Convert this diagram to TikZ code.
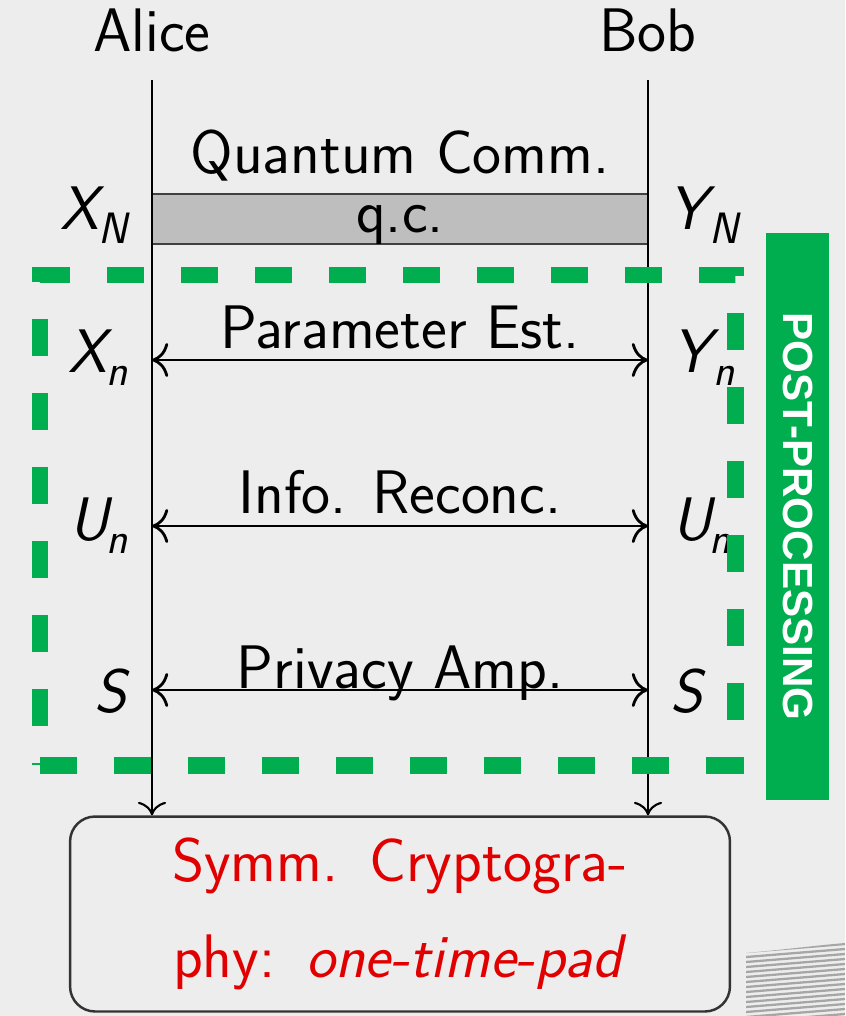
\documentclass[tikz,border=0pt]{standalone}
\usepackage{fontspec}
\newfontfamily\barfont{Liberation Sans}
\usetikzlibrary{arrows.meta}
\tikzset{>={To[scale=1.8]}}
\definecolor{bgcol}{HTML}{EDEDED}
\definecolor{ppgreen}{RGB}{0,173,79}
\definecolor{qcgray}{HTML}{BEBEBE}
\colorlet{cryptred}{red!88!black}
\newcommand{\vsub}[1]{\kern-0.1em\raisebox{-0.22em}{\fontsize{25}{25}\selectfont\itshape #1}}
\tikzset{big/.style={font=\fontsize{35}{42}\selectfont\sffamily},
party/.style={big, anchor=base, inner sep=0pt},
var/.style={big, inner sep=0pt},
msg/.style={big, anchor=base, inner sep=0pt},
lifeline/.style={line width=1.2pt},
chan/.style={line width=1.6pt, <->},
ppframe/.style={ppgreen, line width=0.34cm, dash pattern=on 0.74cm off 0.74cm}}

\begin{document}
\begin{tikzpicture}[x=0.02cm, y=-0.02cm]
                \fill[bgcol] (0,0) rectangle (845,1016);
                \useasboundingbox (0,0) rectangle (845,1016);

                \node[party] (alice) at (152,52) {Alice};
                \node[party] (bob) at (648,52) {Bob};
                \coordinate (aT) at (152,80);
                \coordinate (bT) at (648,80);

                % quantum channel
                \node[big, draw=black!75, line width=1.5pt, fill=qcgray, minimum width=9.92cm,
                      minimum height=1cm, text depth=0pt, inner sep=0pt] (qc) at (400,219) {q.c.};
                \node[msg] (qclbl) at (400,174) {Quantum Comm.};

                \node[big, draw=black!80, line width=1.4pt, rounded corners=0.5cm, minimum width=13.2cm,
                      minimum height=3.9cm, text width=12cm, align=center, text=cryptred] (otp) at (400,914)
                      {Symm. Cryptogra-\\[13pt] phy: \textit{one-time-pad}};

                \draw[lifeline, ->] (aT) -- (aT |- otp.north);
                \draw[lifeline, ->] (bT) -- (bT |- otp.north);

                \coordinate (pe1) at (152,360);
                \coordinate (pe2) at (648,360);
                \coordinate (ir1) at (152,526);
                \coordinate (ir2) at (648,526);
                \coordinate (pa1) at (152,690);
                \coordinate (pa2) at (648,690);

                \draw[chan] (pe1) -- node[msg, yshift=0.24cm] {Parameter Est.} (pe2);
                \draw[chan] (ir1) -- node[msg, yshift=0.26cm] {Info. Reconc.} (ir2);
                \draw[chan] (pa1) -- node[msg, yshift=0.04cm] {Privacy Amp.} (pa2);

                \node[var, anchor=base east] (xN) at (128,230) {\textit{X}\vsub{N}};
                \node[var, anchor=base west] (yN) at (668,230) {\textit{Y}\vsub{N}};
                \node[var, anchor=base east] (xn) at (128,372) {\textit{X}\vsub{n}};
                \node[var, anchor=base west] (yn) at (672,372) {\textit{Y}\vsub{n}};
                \node[var, anchor=base east] (ua) at (128,540) {\textit{U}\vsub{n}};
                \node[var, anchor=base west] (ub) at (672,540) {\textit{U}\vsub{n}};
                \node[var, anchor=base east] (sa) at (130,712) {\textit{S}};
                \node[var, anchor=base west] (sb) at (670,712) {\textit{S}};

                % post-processing frame
                \draw[ppframe] (40,765) -- (735,765) -- (735,275) -- (40,275) -- cycle;
                \node[fill=ppgreen, rotate=-90, minimum width=11.34cm, minimum height=1.26cm, inner sep=0pt,
                      text=white, font=\barfont\bfseries\fontsize{24}{28}\selectfont] (pp) at (797.5,516.5) {POST-PROCESSING};

                \begin{scope}
                \clip (746,953) .. controls (790,949) and (820,945) .. (845,943) -- (845,1016) -- (746,1016) -- cycle;
                \foreach \i in {0,...,16}
                    \draw[black!35, line width=1.3pt] (746,952+5*\i) -- (845,944+5*\i);
                \end{scope}
            \end{tikzpicture}
\end{document}
